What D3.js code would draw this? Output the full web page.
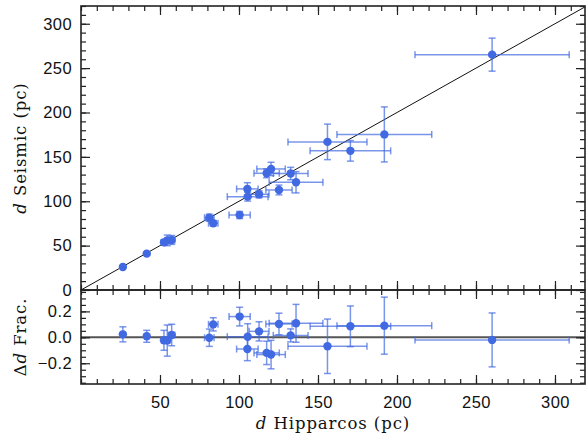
<!DOCTYPE html>
<html>
<head>
<meta charset="utf-8">
<script src="https://cdn.jsdelivr.net/npm/d3@7"></script>
<style>
  body { margin: 0; background: #fff; }
  svg { display: block; }
  .tick text { font-family: "Liberation Sans", Arial, sans-serif; font-size: 16.5px; fill: #111; letter-spacing: 0.4px; }
  .tick line { stroke: #222; stroke-width: 1.2; }
  .title { font-family: "DejaVu Serif", serif; font-size: 16.5px; fill: #111; letter-spacing: 0.9px; }
</style>
</head>
<body>
<svg id="chart"></svg>
<script>
// Hipparcos vs seismic distances (pc)
const hipD   = [26.5, 41.6, 52.5, 54.6, 57.4, 81.2, 83.7, 100.4, 105.3, 105.5, 112.7, 117.5, 120.3, 125.3, 132.7, 136.1, 156.0, 170.5, 192.0, 260.2];
const hipErr = [1, 1, 1.5, 1.5, 2, 3, 3, 6.7, 6.8, 12.9, 6.3, 8, 9, 8.3, 11, 17, 25, 25.5, 30, 48.8];
const seisD   = [25.9, 41.0, 53.7, 55.9, 56.4, 81.5, 75.2, 84.5, 113.9, 105.2, 107.8, 131.5, 136.4, 112.7, 131.2, 121.4, 166.9, 156.8, 175.3, 265.2];
const seisErr = [1, 1.5, 3, 6, 5, 4, 3, 4, 7, 5, 4, 5, 7.5, 5.5, 7, 12, 20, 11.6, 31, 18.6];
const fracD   = [0.023, 0.008, -0.023, -0.025, 0.018, -0.003, 0.10, 0.16, -0.09, 0.005, 0.046, -0.12, -0.133, 0.103, 0.015, 0.108, -0.069, 0.085, 0.09, -0.02];
const fracErr = [0.058, 0.046, 0.077, 0.12, 0.083, 0.067, 0.051, 0.072, 0.09, 0.1, 0.074, 0.09, 0.11, 0.083, 0.05, 0.146, 0.21, 0.157, 0.22, 0.208];

const xMajor = [50, 100, 150, 200, 250, 300];
const yMajorTop = [0, 50, 100, 150, 200, 250, 300];
const yMajorBot = [-0.2, 0.0, 0.2];

const width = 586, height = 436;
const mLeft = 81, mRight = 585, mTop = 6, mMid = 290, mBottom = 384;
const blue = '#4169E1';

const svg = d3.select('#chart').attr('width', width).attr('height', height);

const x = d3.scaleLinear().domain([0, 319]).range([mLeft, mRight]);
const yTop = d3.scaleLinear().domain([0, 320]).range([mMid, mTop]);
const yBot = d3.scaleLinear().domain([-0.36, 0.365]).range([mBottom, mMid]);

const data = hipD.map((d, i) => ({
    hip: d, hipErr: hipErr[i], seis: seisD[i], seisErr: seisErr[i], frac: fracD[i], fracErr: fracErr[i]
}));

function minorTicks(scale, step) {
    const [a, b] = scale.domain();
    return d3.range(Math.ceil(a / step) * step, b + 1e-9, step);
}

// inward ticks on all four sides of a panel
function frame(yScale, y0, y1, yStep, yMinorStep, showX, yFormat) {
    const g = svg.append('g');
    const axes = [
        [d3.axisBottom, `translate(0,${y0})`, x, xMajor, 10, showX ? d3.format('d') : ''],
        [d3.axisTop, `translate(0,${y1})`, x, xMajor, 10, ''],
        [d3.axisLeft, `translate(${mLeft},0)`, yScale, yStep, yMinorStep, yFormat],
        [d3.axisRight, `translate(${mRight},0)`, yScale, yStep, yMinorStep, '']
    ];
    axes.forEach(([fn, tr, sc, major, minorStep, fmt]) => {
        g.append('g').attr('transform', tr)
            .call(fn(sc).tickValues(minorTicks(sc, minorStep)).tickSize(-5).tickFormat(''));
        g.append('g').attr('transform', tr)
            .call(fn(sc).tickValues(major).tickSize(-9).tickPadding(fn === d3.axisBottom ? 12 : 9)
                .tickFormat(fmt === '' ? '' : fmt));
        g.selectAll('.domain').remove();
    });
    g.append('rect')
        .attr('x', mLeft).attr('y', y1)
        .attr('width', mRight - mLeft).attr('height', y0 - y1)
        .attr('fill', 'none').attr('stroke', '#222').attr('stroke-width', 1.6);
}

// top panel: one-to-one line
svg.append('line')
    .attr('x1', x(0)).attr('y1', yTop(0))
    .attr('x2', x(319)).attr('y2', yTop(319))
    .attr('stroke', '#111').attr('stroke-width', 1);

// bottom panel: zero line
svg.append('line')
    .attr('x1', mLeft).attr('x2', mRight)
    .attr('y1', yBot(0)).attr('y2', yBot(0))
    .attr('stroke', '#555').attr('stroke-width', 2);

function errorBars(g, yScale, yKey, yErrKey) {
    const cap = 3.5;
    const eb = g.selectAll('.eb').data(data).join('g').attr('class', 'eb')
        .attr('stroke', blue).attr('stroke-opacity', 0.7).attr('stroke-width', 1.5);
    // horizontal
    eb.append('line')
        .attr('x1', d => x(d.hip - d.hipErr)).attr('x2', d => x(d.hip + d.hipErr))
        .attr('y1', d => yScale(d[yKey])).attr('y2', d => yScale(d[yKey]));
    eb.append('line')
        .attr('x1', d => x(d.hip - d.hipErr)).attr('x2', d => x(d.hip - d.hipErr))
        .attr('y1', d => yScale(d[yKey]) - cap).attr('y2', d => yScale(d[yKey]) + cap);
    eb.append('line')
        .attr('x1', d => x(d.hip + d.hipErr)).attr('x2', d => x(d.hip + d.hipErr))
        .attr('y1', d => yScale(d[yKey]) - cap).attr('y2', d => yScale(d[yKey]) + cap);
    // vertical
    eb.append('line')
        .attr('x1', d => x(d.hip)).attr('x2', d => x(d.hip))
        .attr('y1', d => yScale(d[yKey] - d[yErrKey])).attr('y2', d => yScale(d[yKey] + d[yErrKey]));
    eb.append('line')
        .attr('x1', d => x(d.hip) - cap).attr('x2', d => x(d.hip) + cap)
        .attr('y1', d => yScale(d[yKey] - d[yErrKey])).attr('y2', d => yScale(d[yKey] - d[yErrKey]));
    eb.append('line')
        .attr('x1', d => x(d.hip) - cap).attr('x2', d => x(d.hip) + cap)
        .attr('y1', d => yScale(d[yKey] + d[yErrKey])).attr('y2', d => yScale(d[yKey] + d[yErrKey]));

    g.selectAll('.pt').data(data).join('circle').attr('class', 'pt')
        .attr('cx', d => x(d.hip)).attr('cy', d => yScale(d[yKey]))
        .attr('r', 4.2).attr('fill', blue);
}

errorBars(svg.append('g'), yTop, 'seis', 'seisErr');
errorBars(svg.append('g'), yBot, 'frac', 'fracErr');

frame(yTop, mMid, mTop, yMajorTop, 10, false, d3.format('d'));
frame(yBot, mBottom, mMid, yMajorBot, 0.05, true, d => d3.format('.1f')(d).replace('-', '\u2212'));

// axis titles
svg.append('text').attr('class', 'title')
    .attr('text-anchor', 'middle')
    .attr('transform', `translate(26,${(mTop + mMid) / 2}) rotate(-90)`)
    .html('<tspan font-style="italic">d</tspan> Seismic (pc)');

svg.append('text').attr('class', 'title')
    .attr('text-anchor', 'middle')
    .attr('transform', `translate(26,${(mMid + mBottom) / 2}) rotate(-90)`)
    .html('\u0394<tspan font-style="italic">d</tspan> Frac.');

svg.append('text').attr('class', 'title')
    .attr('text-anchor', 'middle')
    .attr('x', (mLeft + mRight) / 2).attr('y', 429)
    .html('<tspan font-style="italic">d</tspan> Hipparcos (pc)');
</script>
</body>
</html>
